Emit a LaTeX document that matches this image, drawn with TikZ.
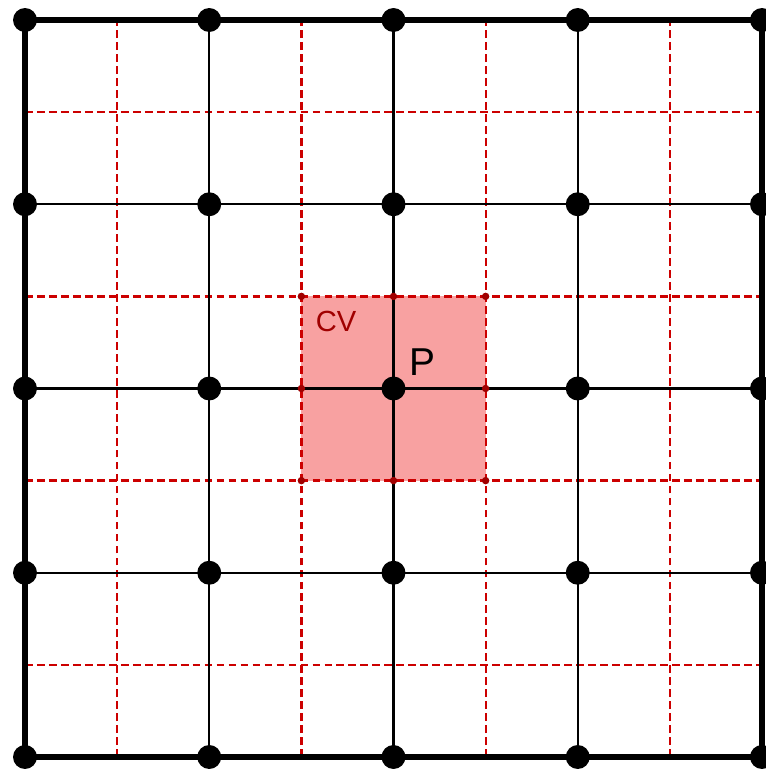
\documentclass[tikz,border=0pt]{standalone}
\usepackage{fontspec}
\setmainfont{Liberation Sans}
\definecolor{cvfill}{RGB}{248,161,161}
\definecolor{cvline}{RGB}{204,0,0}
\definecolor{cvdark}{RGB}{160,0,0}
\tikzset{
  mesh border/.style={line width=1.6pt,draw=black},
  mesh line/.style={line width=0.65pt,draw=black},
  face line/.style={line width=0.7pt,draw=cvline,dash pattern=on 2.4pt off 1.3pt},
  mesh point/.style={circle,fill=black,inner sep=0pt,minimum size=7.4pt},
  face point/.style={circle,fill=cvdark,inner sep=0pt,minimum size=2.3pt},
  cv label/.style={text=cvdark,font=\fontsize{9}{10}\selectfont},
  p label/.style={text=black,font=\fontsize{12}{14}\selectfont}
}

\begin{document}
\begin{tikzpicture}[x=2cm,y=2cm]
  \useasboundingbox (-0.1357,-0.0814) rectangle (4.0163,4.1085);
  % grid points
  \foreach \i in {0,...,4}
    \foreach \j in {0,...,4}
      \coordinate (g-\i-\j) at (\i,\j);
  % control volume
  \fill[cvfill] (1.5,1.5) rectangle (2.5,2.5);
  % face lines
  \foreach \k in {0,...,3}{
    \coordinate (fb-\k) at (\k+0.5,0);
    \coordinate (ft-\k) at (\k+0.5,4);
    \coordinate (fl-\k) at (0,\k+0.5);
    \coordinate (fr-\k) at (4,\k+0.5);
    \draw[face line] (fb-\k)--(ft-\k);
    \draw[face line] (fl-\k)--(fr-\k);
  }
  % mesh lines
  \foreach \k in {1,2,3}{
    \draw[mesh line] (g-\k-0)--(g-\k-4);
    \draw[mesh line] (g-0-\k)--(g-4-\k);
  }
  \draw[mesh border] (g-0-0)--(g-4-0)--(g-4-4)--(g-0-4)--cycle;
  % face points of the cv
  \foreach \i in {1.5,2,2.5}
    \foreach \j in {1.5,2,2.5}
      \node[face point] at (\i,\j) {};
  % nodes
  \foreach \i in {0,...,4}
    \foreach \j in {0,...,4}
      \node[mesh point] (n-\i-\j) at (g-\i-\j) {};
  \node[cv label] (cv) at (1.688,2.366) {CV};
  \node[p label] (p) at (2.155,2.144) {P};
\end{tikzpicture}
\end{document}
